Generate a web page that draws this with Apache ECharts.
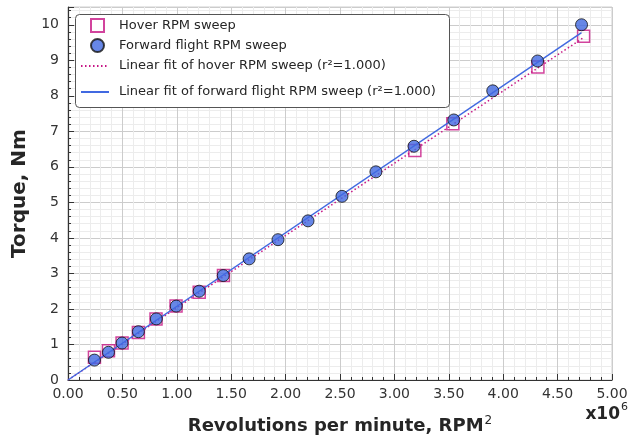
<!DOCTYPE html>
<html><head><meta charset="utf-8">
<script src="https://cdn.jsdelivr.net/npm/echarts@6/dist/echarts.min.js"></script>
<style>html,body{margin:0;padding:0;background:#fff}#c{width:632px;height:440px}</style>
</head><body><div id="c"></div>
<script>
// RPM^2 in units of 1e6
const fwdX = [0.243,0.372,0.497,0.647,0.812,0.995,1.206,1.427,1.665,1.930,2.206,2.518,2.830,3.180,3.546,3.904,4.316,4.720];
const fwdY = [0.56,0.78,1.04,1.36,1.72,2.08,2.50,2.94,3.41,3.95,4.48,5.17,5.86,6.58,7.32,8.14,8.98,10.00];
const hovX = [0.243,0.372,0.497,0.647,0.809,0.993,1.206,1.429,3.188,3.537,4.319,4.739];
const hovY = [0.64,0.82,1.04,1.34,1.72,2.08,2.47,2.94,6.46,7.21,8.81,9.68];
const hovFitX = [0, 4.739];
const hovFitY = [0.0, 9.64];
const fwdFitX = [0, 4.720];
const fwdFitY = [0.0, 9.78];
const xTicks = ['0.00','0.50','1.00','1.50','2.00','2.50','3.00','3.50','4.00','4.50','5.00'];

const names = ['Hover RPM sweep','Forward flight RPM sweep','Linear fit of hover RPM sweep (r²=1.000)','Linear fit of forward flight RPM sweep (r²=1.000)'];
const PINK = '#C71585', BLUE = '#4169E1';
const zip = (a,b)=>a.map((v,i)=>[v,b[i]]);
const font = 'DejaVu Sans';

const legendCenters = [25,45,66,92];
const legends = names.map((n,i)=>{
  const marker = i<2;
  const L = {
    data:[n], left: marker?90:80, top:legendCenters[i]-7, padding:0,
    itemWidth: marker?13:28, itemHeight: marker?13:14, itemGap:0,
    selectedMode:false, z:20,
    textStyle:{fontFamily:font,fontSize:13,color:'#262626',lineHeight:14,padding:[0,0,0,marker?10:5]}
  };
  if(!marker){ L.itemStyle = {opacity:0}; L.lineStyle = {opacity:1}; }
  return L;
});

const chart = echarts.init(document.getElementById('c'),null,{renderer:'canvas'});
chart.setOption({
  animation:false,
  backgroundColor:'#fff',
  grid:{left:68,right:20,top:7,bottom:59,show:true,borderColor:'#cfcfcf',borderWidth:1,backgroundColor:'#fff'},
  legend:legends,
  graphic:[
    {type:'rect',left:75,top:14,z:8,shape:{width:374,height:93,r:4},style:{fill:'#fff',stroke:'#555',lineWidth:1}},
    {type:'text',right:4,top:402,z:8,style:{text:'{a|x10}{b|6}',rich:{a:{fontFamily:font,fontWeight:'bold',fontSize:17,fill:'#262626',verticalAlign:'bottom'},b:{fontFamily:font,fontSize:11,fill:'#262626',verticalAlign:'top',padding:[0,0,10,1]}}}}
  ],
  xAxis:{type:'value',min:0,max:5,interval:0.5,
    name:'{t|Revolutions per minute, RPM}{s|2}',nameLocation:'middle',nameGap:35,
    nameTextStyle:{rich:{t:{fontFamily:font,fontWeight:'bold',fontSize:18,color:'#262626'},s:{fontFamily:font,fontSize:12,color:'#262626',padding:[0,0,10,1]}}},
    axisLine:{show:true,lineStyle:{color:'#333',width:1.2}},
    axisTick:{show:true,inside:true,length:6,lineStyle:{color:'#333'}},
    minorTick:{show:true,splitNumber:5,length:3,lineStyle:{color:'#333'}},
    splitLine:{show:true,lineStyle:{color:'#cccccc',width:1}},
    minorSplitLine:{show:true,lineStyle:{color:'#ececec',width:1}},
    axisLabel:{fontFamily:font,fontSize:14,color:'#333',margin:7,formatter:(v)=>xTicks[Math.round(v/0.5)]}
  },
  yAxis:{type:'value',min:0,max:10.5,interval:1,
    name:'Torque, Nm',nameLocation:'middle',nameGap:36,
    nameTextStyle:{fontFamily:font,fontWeight:'bold',fontSize:20,color:'#262626'},
    axisLine:{show:true,lineStyle:{color:'#333',width:1.2}},
    axisTick:{show:true,inside:true,length:6,lineStyle:{color:'#333'}},
    minorTick:{show:true,splitNumber:5,length:3,lineStyle:{color:'#333'}},
    splitLine:{show:true,lineStyle:{color:'#cccccc',width:1}},
    minorSplitLine:{show:true,lineStyle:{color:'#ececec',width:1}},
    axisLabel:{fontFamily:font,fontSize:14,color:'#333',margin:9,showMaxLabel:false}
  },
  series:[
    {name:names[0],type:'scatter',z:3,symbol:'rect',symbolSize:12,data:zip(hovX,hovY),
      itemStyle:{color:'rgba(255,255,255,0)',borderColor:PINK,borderWidth:1.5}},
    {name:names[1],type:'scatter',z:5,symbol:'circle',symbolSize:12,data:zip(fwdX,fwdY),
      itemStyle:{color:BLUE,borderColor:'#111',borderWidth:1}},
    {name:names[2],type:'line',z:2,symbol:'none',data:zip(hovFitX,hovFitY),
      lineStyle:{color:PINK,width:1.5,type:[1.5,2.5]},itemStyle:{color:PINK}},
    {name:names[3],type:'line',z:4,symbol:'none',data:zip(fwdFitX,fwdFitY),
      lineStyle:{color:BLUE,width:1.5},itemStyle:{color:BLUE}}
  ]
});
</script></body></html>
